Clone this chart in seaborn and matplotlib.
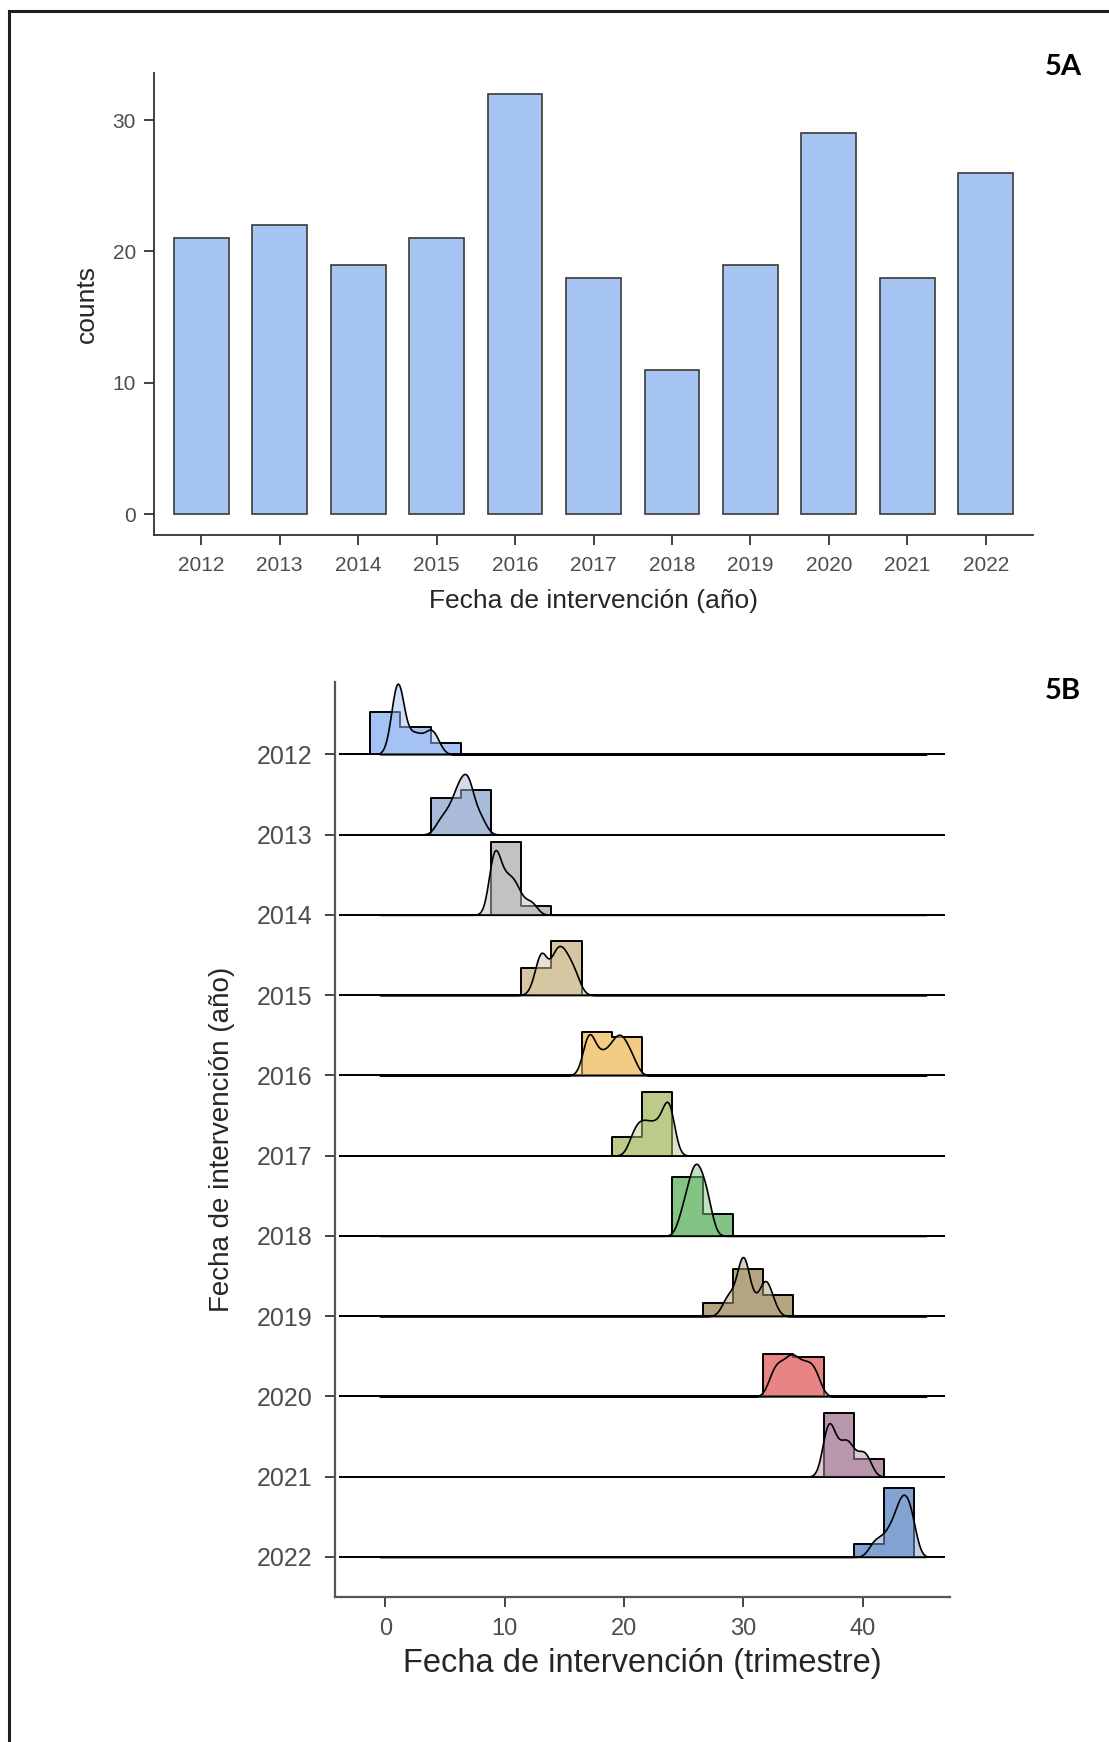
import numpy as np
import pandas as pd
import matplotlib
matplotlib.use("Agg")
import matplotlib.pyplot as plt
from matplotlib.lines import Line2D
import seaborn as sns

# ---- Panel A: number of interventions per year ----
years = [2012, 2013, 2014, 2015, 2016, 2017, 2018, 2019, 2020, 2021, 2022]
counts = [21, 22, 19, 21, 32, 18, 11, 19, 29, 18, 26]

# ---- Panel B: intervention date (quarter index) of every case, grouped by year ----
q2012 = [0.5, 0.7, 0.8, 0.9, 1.0, 1.0, 1.1, 1.1, 1.2, 1.2, 1.2,
         1.5, 1.8, 2.2, 2.5, 2.8, 3.2, 3.6, 3.85, 4.0, 4.4]
q2013 = [4.4, 4.8, 5.1, 5.4, 5.6, 5.8, 6.0, 6.1, 6.2, 6.3,
         6.4, 6.6, 6.7, 6.8, 6.9, 7.0, 7.0, 7.1, 7.3, 7.6, 7.9, 8.2]
q2014 = [8.9, 9.0, 9.0, 9.1, 9.1, 9.2, 9.3, 9.4, 9.6, 9.8, 10.0, 10.2,
         10.4, 10.6, 10.8, 11.0, 11.3, 11.9, 12.4]
q2015 = [12.5, 12.9, 13.0, 13.05, 13.1, 13.2, 13.4,
         13.95, 14.05, 14.2, 14.35, 14.5, 14.6, 14.75, 14.9, 15.05, 15.2,
         15.4, 15.6, 15.85, 16.1]
q2016 = [16.6, 16.8, 16.9, 17.0, 17.0, 17.1, 17.1, 17.2, 17.3, 17.5, 17.7,
         17.9, 18.1, 18.3, 18.5, 18.7, 18.9,
         19.0, 19.1, 19.3, 19.4, 19.5, 19.6, 19.7, 19.8, 19.9, 20.0, 20.2,
         20.3, 20.5, 20.7, 20.9]
q2017 = [20.6, 20.9, 21.15, 21.4,
         21.6, 21.85, 22.1, 22.35, 22.6, 22.85, 23.1, 23.35, 23.5, 23.62,
         23.72, 23.82, 23.92, 24.02]
q2018 = [24.8, 25.2, 25.5, 25.7, 25.9, 26.0, 26.2, 26.4, 26.6, 26.9, 27.1]
q2019 = [28.4, 28.8, 29.0,
         29.5, 29.7, 29.8, 29.9, 30.0, 30.0, 30.1, 30.2, 30.4, 30.8, 31.4,
         31.7, 31.8, 31.9, 32.1, 32.5]
q2020 = [32.2, 32.4, 32.55, 32.7, 32.85, 33.0, 33.15, 33.3, 33.45, 33.6,
         33.75, 33.9, 34.0, 34.1, 34.15,
         34.3, 34.45, 34.6, 34.75, 34.9, 35.05, 35.2, 35.35, 35.5, 35.65,
         35.8, 35.95, 36.1, 36.3]
q2021 = [36.8, 36.9, 37.0, 37.1, 37.2, 37.3, 37.5, 37.7, 38.0, 38.3, 38.5,
         38.7, 38.9, 39.1, 39.6, 39.9, 40.2, 40.5]
q2022 = [40.7, 41.0, 41.3, 41.6,
         41.9, 42.1, 42.3, 42.5, 42.6, 42.8, 42.9, 43.0, 43.1, 43.2, 43.3,
         43.35, 43.4, 43.5, 43.6, 43.7, 43.8, 43.9, 44.0, 44.1, 44.2, 44.25]

quarter_values = [q2012, q2013, q2014, q2015, q2016, q2017, q2018, q2019,
                  q2020, q2021, q2022]

ridge_colors = ["#a4c2f4", "#aabbda", "#c2c2c2", "#d7c6a2", "#f2cb85",
                "#bccb8a", "#83c484", "#b3a57f", "#e88584", "#b896ac",
                "#82a3d1"]

for n, vals in zip(counts, quarter_values):
    assert len(vals) == n

# histogram bins shared by every ridge, padded with empty bins on both sides
BIN_START, BIN_WIDTH, N_BINS = -3.802, 2.532, 20
bin_edges = BIN_START + BIN_WIDTH * np.arange(N_BINS + 1)
BW = 0.45                     # joint kernel bandwidth (quarters)
KDE_LO, KDE_HI = -0.45, 45.3  # common range of the density curves

sns.set_theme(style="ticks")
plt.rcParams["font.family"] = ["Liberation Sans", "DejaVu Sans"]

FIG_W, FIG_H = 1109, 1742
fig = plt.figure(figsize=(FIG_W / 100, FIG_H / 100), dpi=100)
fig.patch.set_facecolor("white")


def px_rect(left, top, right, bottom):
    return [left / FIG_W, 1 - bottom / FIG_H,
            (right - left) / FIG_W, (bottom - top) / FIG_H]


TICK_COLOR = "#333333"
LABEL_COLOR = "#4d4d4d"
TITLE_COLOR = "#262626"

# ================= Panel A =================
axA = fig.add_axes(px_rect(154, 73, 1033, 535))
dfA = pd.DataFrame({"year": years, "counts": counts})
sns.barplot(data=dfA, x="year", y="counts", color="#a7c5f2", saturation=1,
            width=0.7, edgecolor="#3a3a3a", linewidth=1.2, ax=axA)
axA.set_xlim(-0.6, len(years) - 0.4)
axA.set_ylim(-1.6, 33.6)
axA.set_yticks([0, 10, 20, 30])
sns.despine(ax=axA)
for s in ("left", "bottom"):
    axA.spines[s].set_color(TICK_COLOR)
    axA.spines[s].set_linewidth(1.3)
axA.tick_params(axis="both", length=7, width=1.3, color=TICK_COLOR,
                labelcolor=LABEL_COLOR, labelsize=15)
axA.tick_params(axis="x", pad=8)
axA.tick_params(axis="y", pad=6)
axA.set_xlabel("Fecha de intervención (año)", fontsize=19, color=TITLE_COLOR)
axA.set_ylabel("counts", fontsize=19, color=TITLE_COLOR)
axA.xaxis.set_label_coords(0.5, -0.143)
axA.xaxis.label.set_va("center")
axA.yaxis.set_label_coords(-0.076, 0.5)
axA.yaxis.label.set_va("center")

# ================= Panel B =================
axB = fig.add_axes(px_rect(334.7, 682, 950, 1597))
axB.set_xlim(-4.23, 47.3)
axB.set_ylim(len(years) - 0.5, -0.9)
axB.set_yticks(range(len(years)))
axB.set_yticklabels([str(y) for y in years])
axB.set_xticks([0, 10, 20, 30, 40])
axB.set_facecolor("none")
sns.despine(ax=axB)
for s in ("left", "bottom"):
    axB.spines[s].set_color("#555555")
    axB.spines[s].set_linewidth(1.6)
axB.tick_params(axis="both", length=7, width=1.4, color="#444444",
                labelcolor=LABEL_COLOR)
axB.tick_params(axis="y", labelsize=18, pad=9)
axB.tick_params(axis="x", labelsize=17, pad=8)
axB.set_xlabel("Fecha de intervención (trimestre)", fontsize=23.5,
               color=TITLE_COLOR)
axB.set_ylabel("Fecha de intervención (año)", fontsize=20, color=TITLE_COLOR)
axB.xaxis.set_label_coords(0.5, -0.0732)
axB.xaxis.label.set_va("center")
axB.yaxis.set_label_coords(-0.183, 0.5)
axB.yaxis.label.set_va("center")

# one transparent pair of axes per ridge, baseline aligned on the year tick
ROW_PAD, ROW_TOP = 4.0, 100.0
HIST_PX_PER_UNIT = 206.0
KDE_PEAK_PX = 72.0
posB = axB.get_position()
fig_h_px = fig.bbox.height

hist_axes, kde_axes = [], []
for i, (vals, col) in enumerate(zip(quarter_values, ridge_colors)):
    base = axB.transData.transform((0, i))[1]
    rect = [posB.x0, (base - ROW_PAD) / fig_h_px, posB.width,
            (ROW_PAD + ROW_TOP) / fig_h_px]

    axh = fig.add_axes(rect)
    sns.histplot(x=vals, ax=axh, stat="density", bins=bin_edges,
                 element="step", fill=True, color=col, alpha=1,
                 edgecolor="black", linewidth=1.4)

    axk = fig.add_axes(rect)
    sns.kdeplot(x=vals, ax=axk, bw_method=BW / np.std(vals, ddof=1),
                cut=200, clip=(KDE_LO, KDE_HI), gridsize=1500, fill=True,
                color=col, alpha=0.5, edgecolor="black", linewidth=1.2)
    hist_axes.append(axh)
    kde_axes.append(axk)

# densities share one height scale: the tallest ridge sets it
peak = max(a.collections[0].get_paths()[0].vertices[:, 1].max()
           for a in kde_axes)
k = peak / KDE_PEAK_PX
for axh, axk in zip(hist_axes, kde_axes):
    axh.set_ylim(-ROW_PAD / HIST_PX_PER_UNIT, ROW_TOP / HIST_PX_PER_UNIT)
    axk.set_ylim(-ROW_PAD * k, ROW_TOP * k)
    for a in (axh, axk):
        a.set_xlim(axB.get_xlim())
        a.set_axis_off()

# panel tags
for tag, ypx in (("5A", 67), ("5B", 691)):
    fig.text(1063 / FIG_W, 1 - ypx / FIG_H, tag, family=["Lato", "DejaVu Sans"],
             weight="bold", fontsize=21, ha="center", va="center",
             color="black")

# outer frame (left and top edges)
fx, fy = 9 / FIG_W, 1 - 11 / FIG_H
fig.add_artist(Line2D([fx, fx], [0, fy], transform=fig.transFigure,
                      color="#1f1f1f", linewidth=2.2,
                      solid_capstyle="projecting"))
fig.add_artist(Line2D([fx, 1], [fy, fy], transform=fig.transFigure,
                      color="#1f1f1f", linewidth=2.2,
                      solid_capstyle="projecting"))

fig.savefig("out.png", dpi=100, facecolor="white")
